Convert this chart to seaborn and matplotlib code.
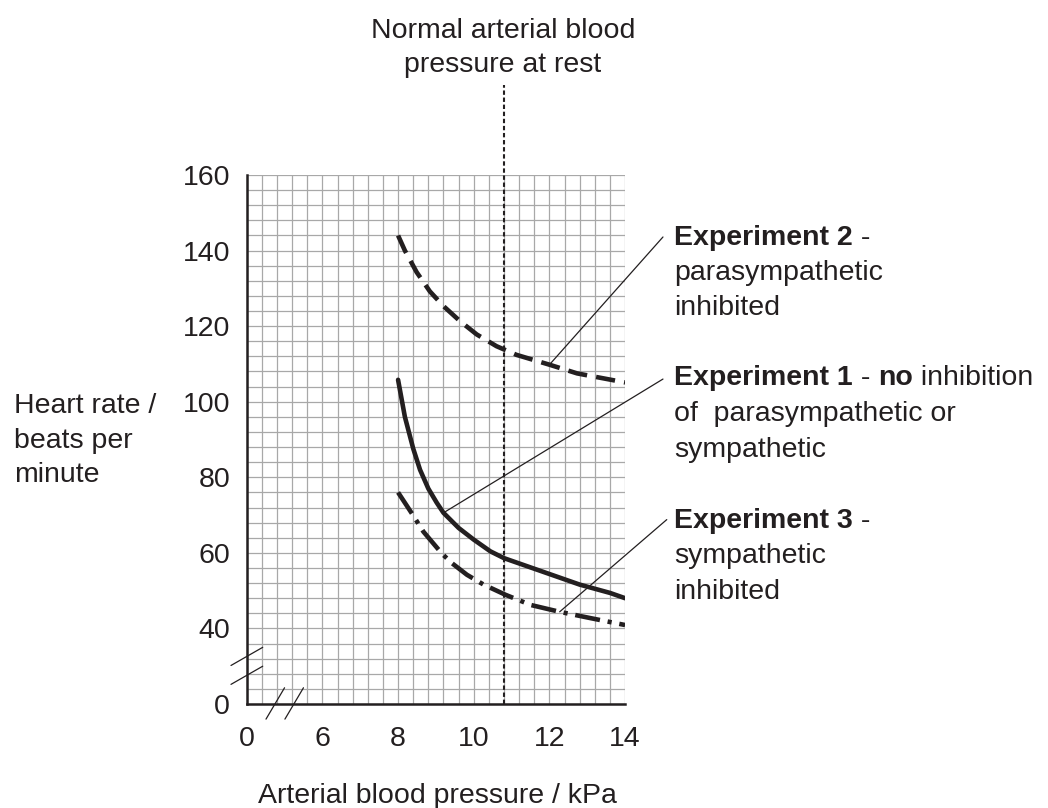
import numpy as np
import pandas as pd
import matplotlib
matplotlib.use("Agg")
import matplotlib.pyplot as plt
import seaborn as sns

### DATA (kPa vs beats per minute)

# experiment 1 - no inhibition (solid)
exp1_kpa = [8.0, 8.18, 8.4, 8.58, 8.8, 9.02, 9.2, 9.6, 10.0, 10.44, 10.8,
            11.2, 11.6, 12.0, 12.4, 12.8, 13.2, 13.6, 14.0]
exp1_rate = [105.8, 96.0, 87.6, 82.0, 77.0, 73.3, 70.6, 66.6, 63.5, 60.4, 58.6,
             57.2, 55.8, 54.4, 53.0, 51.6, 50.5, 49.4, 48.0]

# experiment 2 - parasympathetic inhibited (dashed)
exp2_kpa = [8.0, 8.18, 8.49, 8.84, 9.2, 9.64, 10.08, 10.6, 11.13, 12.0, 12.73, 14.0]
exp2_rate = [144.0, 140.0, 134.3, 129.2, 125.3, 121.3, 117.8, 114.7, 112.4, 109.8, 107.5, 105.1]

# experiment 3 - sympathetic inhibited (dash-dot)
exp3_kpa = [8.0, 8.36, 8.67, 9.16, 9.42, 9.82, 10.26, 10.84, 11.51, 12.27, 13.1, 14.0]
exp3_rate = [76.0, 70.5, 65.6, 59.8, 57.3, 54.2, 51.6, 48.9, 46.2, 44.4, 42.7, 40.9]

normal_bp = 10.8

# axis is broken: the "0" ticks sit one grid block before 6 kPa / 40 bpm
x_ticks = [4, 6, 8, 10, 12, 14]
x_labels = ['0', '6', '8', '10', '12', '14']
y_ticks = [20, 40, 60, 80, 100, 120, 140, 160]
y_labels = ['0', '40', '60', '80', '100', '120', '140', '160']

ink = '#231f20'
grid_col = '#a8a8a8'
fs = 20.5

sns.set_style('white')
plt.rcParams['font.family'] = ['Liberation Sans', 'DejaVu Sans']
plt.rcParams['text.color'] = ink

fig = plt.figure(figsize=(10.48, 8.08), dpi=100)
ax = fig.add_axes([0.2354, 0.1287, 0.3611, 0.6547])

# graph paper
ax.set_xlim(4, 14)
ax.set_ylim(20, 160)
ax.set_xticks(x_ticks)
ax.set_xticklabels(x_labels)
ax.set_yticks(y_ticks)
ax.set_yticklabels(y_labels)
ax.set_xticks(np.arange(4, 14.01, 0.4), minor=True)
ax.set_yticks(np.arange(20, 160.1, 4), minor=True)
ax.grid(which='both', color=grid_col, lw=0.9)
ax.set_axisbelow(True)
ax.tick_params(which='minor', length=0)
ax.tick_params(axis='x', which='major', length=8, width=1.0, color=ink,
               labelsize=fs, labelcolor=ink, pad=8)
ax.tick_params(axis='y', which='major', length=8.4, width=1.0, color=ink,
               labelsize=fs, labelcolor=ink, pad=3.6)
for s in ['top', 'right']:
    ax.spines[s].set_visible(False)
for s in ['left', 'bottom']:
    ax.spines[s].set_color(ink)
    ax.spines[s].set_linewidth(1.8)

# curves
df1 = pd.DataFrame({'kpa': exp1_kpa, 'rate': exp1_rate})
df2 = pd.DataFrame({'kpa': exp2_kpa, 'rate': exp2_rate})
df3 = pd.DataFrame({'kpa': exp3_kpa, 'rate': exp3_rate})
sns.lineplot(data=df1, x='kpa', y='rate', ax=ax, color=ink, lw=3.3,
             linestyle='-', errorbar=None)
sns.lineplot(data=df2, x='kpa', y='rate', ax=ax, color=ink, lw=3.3,
             linestyle=(0, (4.2, 2.0)), errorbar=None)
sns.lineplot(data=df3, x='kpa', y='rate', ax=ax, color=ink, lw=3.3,
             linestyle=(0, (5.5, 1.7, 0.9, 1.7)), errorbar=None)
ax.set_xlabel('')
ax.set_ylabel('')

# normal blood pressure marker
ax.plot([normal_bp, normal_bp], [20, 183.7], color=ink, lw=1.5,
        linestyle=(0, (2.1, 1.3)), clip_on=False)
fig.text(503 / 1048, (808 - 38) / 808, 'Normal arterial blood', ha='center',
         va='baseline', fontsize=fs)
fig.text(503 / 1048, (808 - 72) / 808, 'pressure at rest', ha='center',
         va='baseline', fontsize=fs)

# axis break marks
brk = dict(color=ink, lw=0.9, clip_on=False)
ax.plot([3.585, 4.423], [30.2, 35.0], **brk)
ax.plot([3.585, 4.423], [25.2, 30.0], **brk)
ax.plot([4.51, 5.0], [16.0, 24.3], **brk)
ax.plot([5.01, 5.5], [16.0, 24.3], **brk)

# leader lines from labels to curves
lead = dict(arrowstyle='-', lw=0.9, color=ink, shrinkA=0, shrinkB=0)
ax.annotate('', xy=(exp2_kpa[9], exp2_rate[9]), xytext=(15.0, 143.6),
            arrowprops=lead, annotation_clip=False)
ax.annotate('', xy=(exp1_kpa[6], exp1_rate[6]), xytext=(15.0, 106.0),
            arrowprops=lead, annotation_clip=False)
ax.annotate('', xy=(exp3_kpa[9], exp3_rate[9]), xytext=(15.1, 68.8),
            arrowprops=lead, annotation_clip=False)


def rich_line(x_px, y_px, parts):
    # parts: list of (text, bold) drawn one after another on a baseline
    prev = None
    for txt, bold in parts:
        w = 'bold' if bold else 'normal'
        if prev is None:
            prev = fig.text(x_px / 1048, (808 - y_px) / 808, txt, fontsize=fs,
                            fontweight=w, ha='left', va='baseline')
        else:
            prev = ax.annotate(txt, xy=(1, 0), xycoords=prev, fontsize=fs,
                               fontweight=w, ha='left', va='bottom',
                               annotation_clip=False)


rich_line(674, 245, [('Experiment 2', True), (' -', False)])
rich_line(674, 280, [('parasympathetic', False)])
rich_line(674, 315, [('inhibited', False)])

rich_line(674, 385, [('Experiment 1', True), (' - ', False), ('no', True),
                     (' inhibition', False)])
rich_line(674, 421, [('of  parasympathetic or', False)])
rich_line(674, 457, [('sympathetic', False)])

rich_line(674, 528, [('Experiment 3', True), (' -', False)])
rich_line(674, 563, [('sympathetic', False)])
rich_line(674, 599, [('inhibited', False)])

# axis titles
rich_line(14, 413, [('Heart rate /', False)])
rich_line(14, 448, [('beats per', False)])
rich_line(14, 482, [('minute', False)])
fig.text(437 / 1048, (808 - 803) / 808, 'Arterial blood pressure / kPa',
         ha='center', va='baseline', fontsize=fs)

fig.savefig('out.png', dpi=100)
